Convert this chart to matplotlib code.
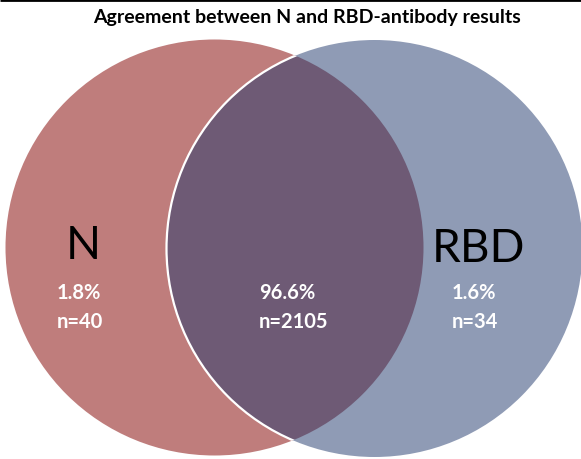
import matplotlib
matplotlib.use("Agg")
import matplotlib.pyplot as plt
from matplotlib.patches import Ellipse

# ---- data ----
title = "Agreement between N and RBD-antibody results"
set_names = ["N", "RBD"]
region_labels = ["N only", "Both", "RBD only"]
region_pct = [1.8, 96.6, 1.6]
region_n = [40, 2105, 34]

# ---- style / layout ----
plt.rcParams['font.family'] = ['Lato', 'DejaVu Sans']
red = "#BF7D7C"
blue = "#8F9BB5"
purple = "#6E5A75"

fig = plt.figure(figsize=(5.81, 4.60), dpi=100)
ax = fig.add_axes([0, 0, 1, 1])
ax.set_xlim(0, 581)
ax.set_ylim(460, 0)
ax.axis('off')

# circle geometry (pixel coordinates)
left_c, left_w, left_h = (214.5, 248.5), 418, 416
right_c, right_w, right_h = (374.5, 249.5), 416, 417

red_patch = Ellipse(left_c, left_w, left_h, facecolor=red, edgecolor='none', zorder=1)
ax.add_patch(red_patch)
blue_patch = Ellipse(right_c, right_w, right_h, facecolor=blue, edgecolor='none', zorder=2)
ax.add_patch(blue_patch)
overlap = Ellipse(right_c, right_w, right_h, facecolor=purple, edgecolor='none', zorder=3)
ax.add_patch(overlap)
overlap.set_clip_path(red_patch)
edge = Ellipse(right_c, right_w, right_h, facecolor='none', edgecolor='white', lw=1.6, zorder=4)
ax.add_patch(edge)
edge.set_clip_path(red_patch)

# top border line
ax.plot([0, 581], [0.8, 0.8], color='black', lw=2.0, zorder=6, solid_capstyle='butt')

# title
ax.text(307, 18, title, ha='center', va='center', fontsize=14, fontweight='bold', color='black', zorder=5)

# set names
name_pos = [(83, 246), (479, 249)]
for name, (x, y) in zip(set_names, name_pos):
    ax.text(x, y, name, ha='center', va='center', fontsize=33, color='black', zorder=5)

# region values
value_x = [57, 259, 452]
pct_y = 293
n_y = 322
for x, p, n in zip(value_x, region_pct, region_n):
    ax.text(x, pct_y, f"{p}%", ha='left', va='center', fontsize=14.5, fontweight='bold', color='white', zorder=5)
    ax.text(x, n_y, f"n={n}", ha='left', va='center', fontsize=14.5, fontweight='bold', color='white', zorder=5)

fig.savefig("out.png", dpi=100, facecolor='white')
